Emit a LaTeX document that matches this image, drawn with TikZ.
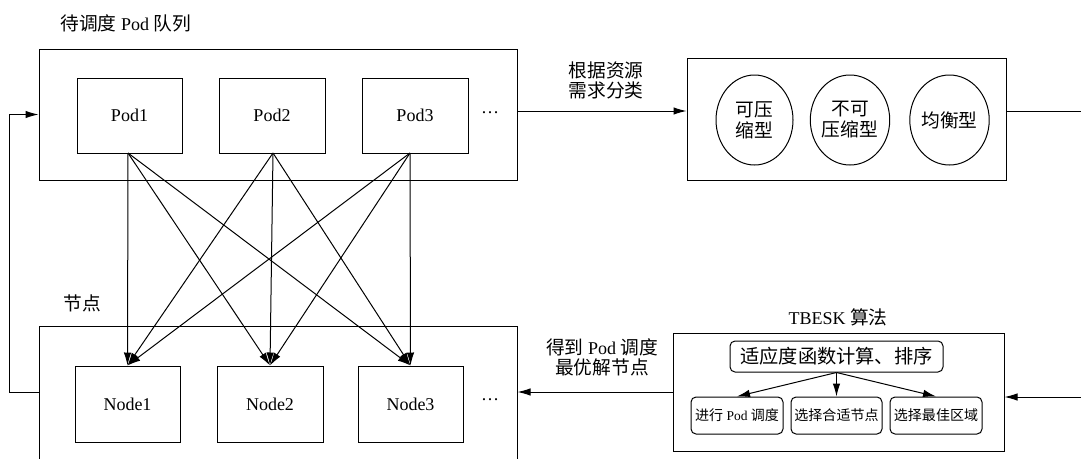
\documentclass[tikz,border=0pt]{standalone}
\usepackage{fontspec}
\setmainfont{Liberation Serif}
\newfontfamily\cjk{Noto Sans CJK SC}[Scale=1.04]
\usetikzlibrary{arrows.meta,shapes.geometric}
\begin{document}
\begin{tikzpicture}[x=1pt,y=-1pt,line width=1pt,
  >={Latex[length=13pt,width=7.5pt]},
  every node/.style={font=\fontsize{18}{21}\selectfont,inner sep=0pt,align=center},
  frame/.style={draw,rectangle},
  item/.style={draw,rectangle,minimum height=75pt},
  oval/.style={draw,ellipse,minimum width=77pt,minimum height=90pt},
  rbox/.style={draw,rectangle,rounded corners=5pt,minimum height=37pt,font=\fontsize{13.5}{17}\selectfont},
  lbl/.style={font=\fontsize{18}{20}\selectfont}]
\useasboundingbox (0,0) rectangle (1081,458);

% top queue
\node[lbl,anchor=west] (qlbl) at (60,23) {{\cjk 待调度} Pod {\cjk 队列}};
\node[frame,minimum width=478pt,minimum height=131pt] (queue) at (278,114.5) {};
\node[item,minimum width=105pt] (pod1) at (129.5,115.5) {Pod1};
\node[item,minimum width=106pt] (pod2) at (272,115.5) {Pod2};
\node[item,minimum width=106pt] (pod3) at (415,115.5) {Pod3};
\node (qdots) at (490,113) {\ldots};

% classification
\node[frame,minimum width=319pt,minimum height=122pt] (cls) at (846.5,119) {};
\node[oval] (e1) at (754.5,120) {\cjk 可压\\\cjk 缩型};
\node[oval] (e2) at (850,120) {\cjk 不可\\\cjk 压缩型};
\node[oval] (e3) at (949.5,120) {\cjk 均衡型};
\node[lbl] (clslbl) at (606,80) {\cjk 根据资源\\\cjk 需求分类};

% nodes
\node[lbl,anchor=west] (nlbl) at (63,303) {\cjk 节点};
\node[frame,minimum width=478pt,minimum height=144pt] (nodes) at (278,398) {};
\node[item,minimum width=105pt,minimum height=76pt] (node1) at (127.5,404) {Node1};
\node[item,minimum width=106pt,minimum height=76pt] (node2) at (270,404) {Node2};
\node[item,minimum width=105pt,minimum height=76pt] (node3) at (410.5,404) {Node3};
\node (ndots) at (490,400) {\ldots};

% TBESK
\node[lbl] (tblbl) at (838,317) {TBESK {\cjk 算法}};
\node[frame,minimum width=331pt,minimum height=118pt] (tb) at (838.5,392) {};
\node[draw,rectangle,rounded corners=5pt,minimum width=213pt,minimum height=31pt,font=\fontsize{18.5}{22}\selectfont] (fit) at (836.5,356.5) {\cjk 适应度函数计算、排序};
\node[rbox,minimum width=92pt] (b1) at (737,415.5) {{\cjk 进行} Pod {\cjk 调度}};
\node[rbox,minimum width=91pt] (b2) at (836.5,415.5) {\cjk 选择合适节点};
\node[rbox,minimum width=92pt] (b3) at (936,415.5) {\cjk 选择最佳区域};
\node[lbl] (reslbl) at (602,357) {{\cjk 得到} Pod {\cjk 调度}\\\cjk 最优解节点};

% connectors
\foreach \p/\px in {pod1/128,pod2/273,pod3/410}{
  \foreach \n in {node1,node2,node3}{
    \draw[->] (\px,153) -- (\n.north);
  }
}
\draw[->] (queue.east |- 0,111) -- (cls.west |- 0,111);
\draw[->] (nodes.west |- 0,392) -- (9,392) -- (9,114.5) -- (queue.west);
\draw[->] (cls.east |- 0,111) -- (1095,111) -- (1095,397) -- (tb.east |- 0,397);
\draw[->] (tb.west) -- (nodes.east |- tb.west);
\draw[->] (fit.south) -- (b1.north);
\draw[->] (fit.south) -- (b2.north);
\draw[->] (fit.south) -- (b3.north);
\end{tikzpicture}
\end{document}
